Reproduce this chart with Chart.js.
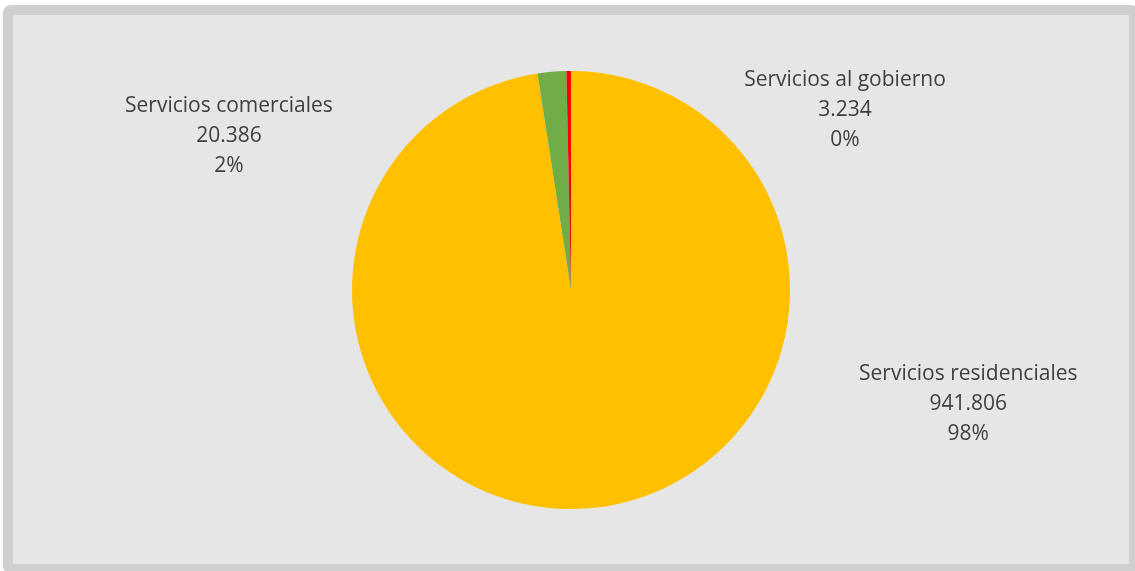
<!DOCTYPE html>
<html><head><meta charset="utf-8">
<script src="https://cdn.jsdelivr.net/npm/chart.js@4"></script>
<style>
html,body{margin:0;padding:0;background:#ffffff;width:1135px;height:571px;overflow:hidden;}
#frame{position:absolute;left:3px;top:5px;width:1116px;height:549px;border:10px solid #d0cece;border-radius:8px;background:#e7e6e6;}
#wrap{position:absolute;left:0;top:0;width:1135px;height:571px;}
</style></head>
<body>
<div id="frame"></div>
<div id="wrap"><canvas id="c"></canvas></div>
<script>
const categories = ["Servicios residenciales", "Servicios comerciales", "Servicios al gobierno"];
const values = [941806, 20386, 3234];
const valueLabels = ["941.806", "20.386", "3.234"];
const percentLabels = ["98%", "2%", "0%"];
const colors = ["#FFC000", "#70AD47", "#FF0000"];
// label anchor offsets relative to pie center, in units of radius
const labelOffsets = [[1.814, 0.52], [-1.562, -0.705], [1.251, -0.82]];

const labelPlugin = {
  id: 'pieLabels',
  afterDatasetsDraw(chart) {
    const ctx = chart.ctx;
    const meta = chart.getDatasetMeta(0);
    ctx.save();
    ctx.fillStyle = '#404040';
    ctx.font = '21px "Open Sans"';
    ctx.textAlign = 'center';
    ctx.textBaseline = 'middle';
    meta.data.forEach((arc, i) => {
      const r = arc.outerRadius;
      const cx = arc.x + labelOffsets[i][0] * r;
      const cy = arc.y + labelOffsets[i][1] * r;
      const lines = [categories[i], valueLabels[i], percentLabels[i]];
      lines.forEach((t, k) => ctx.fillText(t, cx, cy + (k - 1) * 30));
    });
    ctx.restore();
  }
};

new Chart(document.getElementById('c'), {
  type: 'pie',
  data: { labels: categories, datasets: [{ data: values, backgroundColor: colors, borderWidth: 0 }] },
  options: {
    responsive: true, maintainAspectRatio: false, animation: false,
    layout: { padding: { top: 71, bottom: 62, left: 7, right: 0 } },
    plugins: { legend: { display: false }, tooltip: { enabled: false } }
  },
  plugins: [labelPlugin]
});
</script>
</body></html>
